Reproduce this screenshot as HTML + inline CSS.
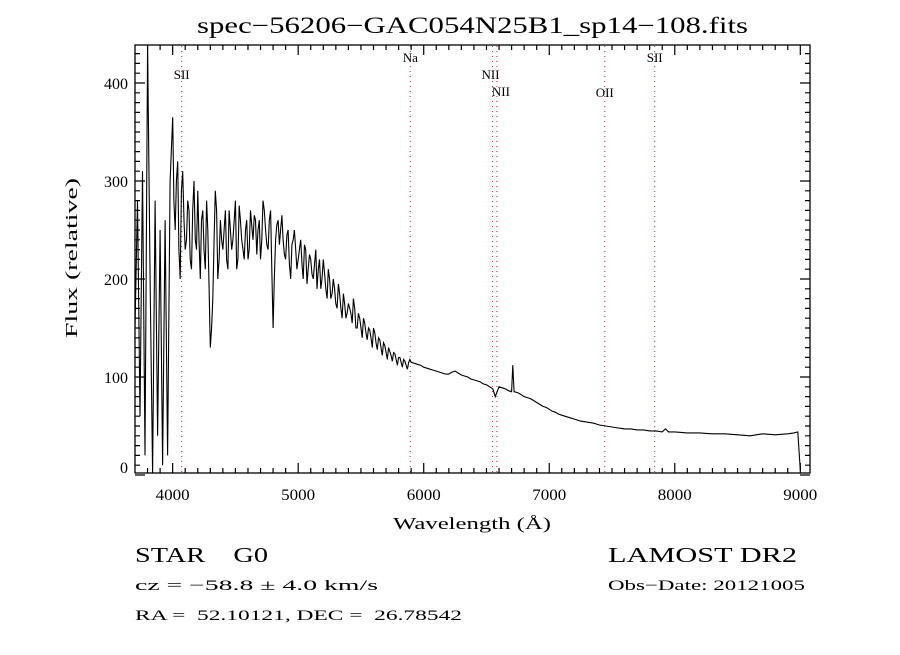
<!DOCTYPE html>
<html><head><meta charset="utf-8"><style>
body{margin:0;background:#fff;width:900px;height:650px;overflow:hidden}
svg text{font-family:"Liberation Serif",serif;fill:#000;white-space:pre}
</style></head><body>
<svg id="chart" width="900" height="650">
<text x="197" y="33" font-size="23" textLength="551" lengthAdjust="spacingAndGlyphs">spec−56206−GAC054N25B1_sp14−108.fits</text>
<g id="lines"></g>
<g id="ticks"></g>
<path id="spec" fill="none" stroke="#000" stroke-width="1.1"/>
<rect x="135" y="45" width="675" height="428" fill="none" stroke="#000" stroke-width="1.3"/>
<text x="393" y="529" font-size="17" textLength="158" lengthAdjust="spacingAndGlyphs">Wavelength (Å)</text>
<text transform="translate(77,338) rotate(-90)" font-size="17" textLength="160" lengthAdjust="spacingAndGlyphs">Flux (relative)</text>
<text x="135" y="562" font-size="21" textLength="133" lengthAdjust="spacingAndGlyphs">STAR    G0</text>
<text x="135" y="590" font-size="15" textLength="243" lengthAdjust="spacingAndGlyphs">cz = −58.8 ± 4.0 km/s</text>
<text x="135" y="620" font-size="15" textLength="327" lengthAdjust="spacingAndGlyphs">RA =  52.10121, DEC =  26.78542</text>
<text x="608" y="562" font-size="21" textLength="189" lengthAdjust="spacingAndGlyphs">LAMOST DR2</text>
<text x="608" y="590" font-size="15" textLength="197" lengthAdjust="spacingAndGlyphs">Obs−Date: 20121005</text>
</svg>
<script>
const wl=[3700,3720,3740,3760,3780,3800,3820,3840,3860,3880,3900,3920,3940,3960,3980,4000,4020,4040,4060,4080,4100,4120,4140,4160,4180,4200,4220,4240,4260,4280,4300,4320,4340,4360,4380,4400,4420,4440,4460,4480,4500,4520,4540,4560,4580,4600,4620,4640,4660,4680,4700,4720,4740,4760,4780,4800,4820,4840,4860,4880,4900,4920,4940,4960,4980,5000,5020,5040,5060,5080,5100,5120,5140,5160,5180,5200,5220,5240,5260,5280,5300,5320,5340,5360,5380,5400,5420,5440,5460,5480,5500,5520,5540,5560,5580,5600,5620,5640,5660,5680,5700,5720,5740,5760,5780,5800,5820,5840,5860,5880,5900,5950,6000,6050,6100,6150,6200,6250,6300,6350,6400,6450,6500,6550,6570,6600,6650,6700,6710,6720,6750,6800,6850,6900,6950,7000,7050,7100,7150,7200,7250,7300,7350,7400,7450,7500,7550,7600,7650,7700,7750,7800,7850,7900,7950,8000,8100,8200,8300,8400,8500,8600,8700,8800,8900,8980,9000];
const flux=[150,280,60,310,20,440,200,0,280,40,250,10,260,20,300,365,250,320,200,310,230,280,220,270,240,290,200,270,210,250,130,180,290,200,260,230,270,210,250,240,280,220,260,230,250,220,270,240,260,250,220,280,250,230,270,150,240,260,250,240,220,250,200,240,230,220,240,200,230,210,220,200,230,210,190,220,190,210,180,200,175,195,170,185,160,175,165,180,150,165,150,160,145,150,140,150,135,140,130,135,125,130,122,125,118,120,115,118,112,115,115,113,110,108,106,104,103,106,102,100,97,95,92,88,80,90,88,85,112,85,84,80,78,74,70,67,64,61,59,57,55,54,53,51,50,49,48,47,47,46,46,45,45,44,44,44,43,43,42,42,41,40,42,41,42,44,5];
const wl2=[4010,4030,4050,4070,4090,4110,4130,4150,4170,4190,4210,4230,4250,4270,4290,4310,4330,4350,4370,4390,4410,4430,4450,4470,4490,4510,4530,4550,4570,4590,4610,4630,4650,4670,4690,4710,4730,4750,4770,4790,4810,4830,4850,4870,4890,4910,4930,4950,4970,4990,5010,5030,5050,5070,5090,5110,5130,5150,5170,5190,5210,5230,5250,5270,5290,5310,5330,5350,5370,5390,5410,5430,5450,5470,5490,5510,5530,5550,5570,5590,5610,5630,5650,5670,5690,5710,5730,5750,5770,5790,5810,5830,5850,5870,5890];
const flux2=[280,300,230,290,260,240,270,210,300,230,240,260,230,280,190,150,240,270,220,240,250,220,270,230,260,210,275,240,220,260,230,255,265,225,260,240,270,235,260,210,200,255,235,265,225,245,215,235,250,210,230,215,235,195,225,205,215,190,220,200,205,180,200,185,190,170,185,160,175,165,170,155,170,150,160,140,155,138,148,130,145,128,138,122,132,118,126,116,124,112,120,110,116,108,118];
const wl3=[5925,5975,6025,6075,6125,6175,6225,6275,6325,6375,6425,6475,6525,6625,6675,6775,6825,6875,6925,6975,7025,7075,7125,7175,7225,7275,7325,7375,7425,7475,7525,7575,7625,7675,7725,7775,7825,7875,7925,7975,8050,8150,8250,8350,8450,8550,8650,8750,8850,8950];
const flux3=[114,112,109,107,105,103,105,104,101,98,96,93,90,89,86,82,79,76,72,69,65,62,60,58,56,54.5,53.5,52,50.5,49.5,48.5,47.5,47,46.5,46,45.5,45,44.5,47,44,43.5,43,42.5,42,41.5,40.5,41,41.5,41.5,43];
const xTickLabels=[4000,5000,6000,7000,8000,9000];
const yTickLabels=[0,100,200,300,400];
const lineNames=["SII","Na","NII","NII","OII","SII"];
const lineWl=[4072,5893,6548,6583,7442,7840];
const X=w=>135+(w-3700)*0.12553, Y=v=>475-v*0.98;
const NS="http://www.w3.org/2000/svg";
const svg=document.getElementById('chart');
function el(t,a,p){const e=document.createElementNS(NS,t);for(const k in a)e.setAttribute(k,a[k]);p.appendChild(e);return e;}
const pts=[];
wl.forEach((w,i)=>pts.push([w,flux[i]]));
wl2.forEach((w,i)=>pts.push([w,flux2[i]]));
wl3.forEach((w,i)=>pts.push([w,flux3[i]]));
pts.sort((a,b)=>a[0]-b[0]);
let d="";pts.forEach((p,i)=>{d+=(i?"L":"M")+X(p[0]).toFixed(1)+","+Math.max(45,Math.min(473,Y(p[1]))).toFixed(1);});
document.getElementById('spec').setAttribute('d',d);
const tg=document.getElementById('ticks');
for(let w=3800;w<=9000;w+=100){const x=X(w),maj=w%1000==0,L=maj?10:5;
 const a=el('path',{d:`M${x},473v-${L}M${x},45v${L}`,stroke:'#000','stroke-width':1.2},tg);
 
 }
xTickLabels.forEach(v=>{const t=el('text',{x:X(v),y:500,'text-anchor':'middle','font-size':16,textLength:34,lengthAdjust:'spacingAndGlyphs'},svg);t.textContent=v;
 
 });
for(let v=0;v<=430;v+=10){const y=Y(v),L=v%100==0?10:5;
 const a=el('path',{d:`M135,${y}h${L}M810,${y}h-${L}`,stroke:'#000','stroke-width':1.2},tg);
 
 }
yTickLabels.forEach(v=>{const t=el('text',{x:128,y:Y(v)+(v==0?-2:6),'text-anchor':'end','font-size':16},svg);t.textContent=v;
 
 });
const lg=document.getElementById('lines');
const labY=[79,62,79,96,97,62];
lineWl.forEach((w,i)=>{const x=X(w);
 const l=el('line',{x1:x,x2:x,y1:46,y2:472,stroke:'#a33','stroke-width':1,'stroke-dasharray':'1,4'},lg);
 
 
 const t=el('text',{x:x+(i==2?-2:(i==3?4:0)),y:labY[i],'text-anchor':'middle','font-size':13},lg);t.textContent=lineNames[i];
 
 });
</script>
</body></html>
